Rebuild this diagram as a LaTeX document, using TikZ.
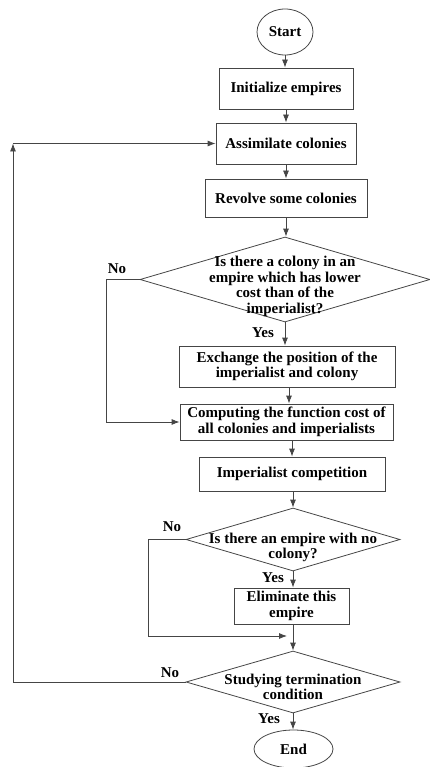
\documentclass[tikz,border=0pt]{standalone}
\usepackage{fontspec}
\setmainfont{Liberation Serif}
\usetikzlibrary{shapes.geometric,arrows.meta}

\definecolor{linegray}{HTML}{454545}

\begin{document}
\begin{tikzpicture}[x=1pt, y=-1pt,
        font=\fontsize{15}{15.5}\selectfont\bfseries,
        every node/.style={align=center, inner sep=0pt},
        procbox/.style={draw=linegray, line width=0.8pt, rectangle},
        termnode/.style={draw=linegray, line width=0.8pt, ellipse},
        decision/.style={draw=linegray, line width=0.8pt, diamond},
        arr/.style={draw=linegray, line width=0.8pt, -{Latex[length=8pt,width=6pt]}},
        link/.style={draw=linegray, line width=0.8pt}]
        \useasboundingbox (0,0) rectangle (429,767);

        % start and end
        \node[termnode, minimum width=56, minimum height=46] (start) at (285,32) {Start};
        \node[termnode, minimum width=79, minimum height=38] (stop) at (293.5,749) {End};

        % process boxes
        \node[procbox, minimum width=134, minimum height=41] (init) at (286,88.5) {Initialize empires};
        \node[procbox, minimum width=140, minimum height=41] (assim) at (286,143.5) {Assimilate colonies};
        \node[procbox, minimum width=162, minimum height=38] (revolve) at (286,198) {Revolve some colonies};
        \node[procbox, minimum width=216, minimum height=41] (exch) at (287,366.5) {Exchange the position of the\\imperialist and colony};
        \node[procbox, minimum width=213, minimum height=36] (comp) at (286.5,422) {Computing the function cost of\\all colonies and imperialists};
        \node[procbox, minimum width=186, minimum height=34] (compet) at (292,474) {Imperialist competition};
        \node[procbox, minimum width=115, minimum height=36] (elim) at (291.5,606) {Eliminate this\\empire};

        % decisions
        \node[decision, minimum width=290, minimum height=85,
              label={[align=center, yshift=-7]center:Is there a colony in an\\empire which has lower\\cost than of the\\imperialist?}] (lower) at (285,279.5) {};
        \node[decision, minimum width=214, minimum height=63,
              label={[align=center, yshift=-8]center:Is there an empire with no\\colony?}] (nocol) at (293,539.5) {};
        \node[decision, minimum width=214, minimum height=62,
              label={[align=center, yshift=-5]center:Studying termination\\condition}] (term) at (293,682) {};

        % main flow
        \draw[arr] (start.south) -- (start.south |- init.north);
        \draw[arr] (init.south) -- (init.south |- assim.north);
        \draw[arr] (assim.south) -- (assim.south |- revolve.north);
        \draw[arr] (revolve.south) -- (revolve.south |- lower.north);
        \draw[arr] (lower.south) -- (lower.south |- exch.north);
        \draw[arr] (exch.south) ++(2,0) -- (comp.north -| {289,0});
        \draw[arr] (comp.south) ++(5.5,0) -- (compet.north);
        \draw[arr] (compet.south) ++(1,0) -- (nocol.north);
        \draw[arr] (nocol.south) -- (nocol.south |- elim.north);
        \draw[arr] (elim.south) ++(1.5,0) -- (term.north);
        \draw[arr] (term.south) -- (term.south |- stop.north);

        % no branches
        \coordinate (skipA) at (106,279.5);
        \draw[arr] (lower.west) -- (skipA) |- (comp.west);

        \coordinate (skipB) at (148,539.5);
        \coordinate (joinB) at (287,636);
        \draw[arr] (nocol.west) -- (skipB) |- (joinB);

        \coordinate (loopB) at (13,682);
        \coordinate (loopT) at (13,143.5);
        \draw[arr] (term.west) -- (loopB) -- (loopT);
        \draw[arr] (loopT) -- (assim.west);

        % labels
        \node (noA) at (117,269) {No};
        \node (yesA) at (263,333) {Yes};
        \node (noB) at (172,527) {No};
        \node (yesB) at (273,578) {Yes};
        \node (noC) at (170,673) {No};
        \node (yesC) at (269,719) {Yes};
\end{tikzpicture}
\end{document}
